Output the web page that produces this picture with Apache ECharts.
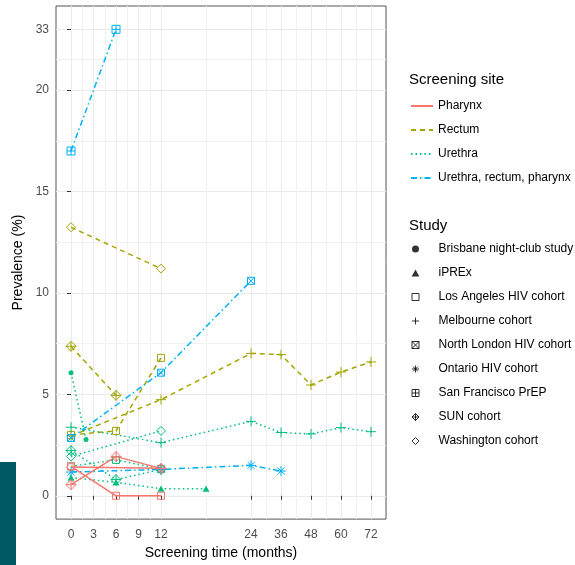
<!DOCTYPE html>
<html>
<head>
<meta charset="utf-8">
<title>Prevalence by screening time</title>
<script src="https://cdn.jsdelivr.net/npm/echarts@6.0.0/dist/echarts.min.js"></script>
<style>
  html, body { margin: 0; height: 100%; background: #fff; }
  #chart { width: 575px; height: 565px; }
</style>
</head>
<body>
<div id="chart"></div>
<script>
// tick labels
var xTickLabels = [0, 3, 6, 9, 12, 24, 36, 48, 60, 72];
var yTickLabels = [0, 5, 10, 15, 20, 33];

var sites = ['Pharynx', 'Rectum', 'Urethra', 'Urethra, rectum, pharynx'];
var studies = ['Brisbane night-club study', 'iPREx', 'Los Angeles HIV cohort', 'Melbourne cohort',
  'North London HIV cohort', 'Ontario HIV cohort', 'San Francisco PrEP', 'SUN cohort', 'Washington cohort'];

// [month, prevalence %]
var laPharynx = [[0, 1.45], [6, 0], [12, 0]];
var sunPharynx = [[0, 0.55], [6, 1.93], [12, 1.35]];
var washPharynx = [[0, 1.42], [12, 1.36]];

var washRectum = [[0, 13.24], [12, 11.2]];
var sunRectum = [[0, 7.37], [6, 4.95]];
var laRectum = [[0, 3.0], [6, 3.2], [12, 6.8]];
var melbRectum = [[0, 2.95], [12, 4.74], [24, 7.02], [36, 6.96], [48, 5.46], [60, 6.1], [72, 6.6]];

var brisUrethra = [[0, 6.07], [2, 2.78]];
var melbUrethra = [[0, 3.38], [12, 2.62], [24, 3.67], [36, 3.12], [48, 3.05], [60, 3.36], [72, 3.16]];
var washUrethra = [[0, 1.94], [12, 3.2]];
var sunUrethra = [[0, 2.23], [6, 0.8], [12, 1.3]];
var iprexUrethra = [[0, 0.9], [6, 0.66], [12, 0.35], [18, 0.35]];
var laUrethra = [[0, 1.45], [6, 1.77], [12, 1.32]];

var sfAll = [[0, 17], [6, 33]];
var nlAll = [[0, 2.85], [12, 6.07], [24, 10.6]];
var ontAll = [[0, 1.17], [12, 1.3], [24, 1.5], [36, 1.22]];

// axis transforms: x compressed after 24 months, y compressed above 20 %
function tx(m) { return m <= 24 ? m : 24 + (m - 24) / 3; }
function txInv(t) { return t <= 24 ? t : 24 + (t - 24) * 3; }
function ty(v) { return v <= 20 ? v : 20 + (v - 20) * 3 / 13; }
function tyInv(t) { return t <= 20 ? t : 20 + (t - 20) * 13 / 3; }

function midpoints(arr) {
  var out = [];
  for (var i = 1; i < arr.length; i++) out.push((arr[i - 1] + arr[i]) / 2);
  return out;
}
var xMajor = xTickLabels.map(tx);
var yMajor = yTickLabels.map(ty);

var siteStyle = {
  'Pharynx': { color: '#F8766D', type: 'solid' },
  'Rectum': { color: '#A3A500', type: [5, 4] },
  'Urethra': { color: '#00BF7D', type: [1.5, 3] },
  'Urethra, rectum, pharynx': { color: '#00B0F6', type: [6, 3, 1.5, 3] }
};
var studyStyle = {
  'Brisbane night-club study': { symbol: 'circle', size: 5, filled: true },
  'iPREx': { symbol: 'path://M5,0L10,9L0,9Z', size: 7, filled: true },
  'Los Angeles HIV cohort': { symbol: 'path://M0,0H10V10H0Z', size: 7 },
  'Melbourne cohort': { symbol: 'path://M5,0V10M0,5H10', size: 10 },
  'North London HIV cohort': { symbol: 'path://M0,0H10V10H0ZM0,0L10,10M10,0L0,10', size: 7 },
  'Ontario HIV cohort': { symbol: 'path://M5,0V10M0,5H10M1.5,1.5L8.5,8.5M8.5,1.5L1.5,8.5', size: 10 },
  'San Francisco PrEP': { symbol: 'path://M0,0H10V10H0ZM5,0V10M0,5H10', size: 8 },
  'SUN cohort': { symbol: 'path://M5,0L10,5L5,10L0,5ZM5,0V10M0,5H10', size: 10 },
  'Washington cohort': { symbol: 'path://M5,0L10,5L5,10L0,5Z', size: 9 }
};

function markerStyle(study, color) {
  var s = studyStyle[study];
  if (s.filled) return { color: color, borderWidth: 0 };
  return { color: 'transparent', borderColor: color, borderWidth: 1 };
}

function trace(pts, site, study) {
  var c = siteStyle[site].color;
  return {
    type: 'line',
    name: study + ' / ' + site,
    data: pts.map(function (p) { return [tx(p[0]), ty(p[1])]; }),
    symbol: studyStyle[study].symbol,
    symbolSize: studyStyle[study].size,
    symbolKeepAspect: true,
    showAllSymbol: true,
    lineStyle: { color: c, width: 1.5, type: siteStyle[site].type },
    itemStyle: markerStyle(study, c),
    z: 3
  };
}

var series = [
  trace(washRectum, 'Rectum', 'Washington cohort'),
  trace(sunRectum, 'Rectum', 'SUN cohort'),
  trace(laRectum, 'Rectum', 'Los Angeles HIV cohort'),
  trace(melbRectum, 'Rectum', 'Melbourne cohort'),
  trace(brisUrethra, 'Urethra', 'Brisbane night-club study'),
  trace(melbUrethra, 'Urethra', 'Melbourne cohort'),
  trace(washUrethra, 'Urethra', 'Washington cohort'),
  trace(sunUrethra, 'Urethra', 'SUN cohort'),
  trace(iprexUrethra, 'Urethra', 'iPREx'),
  trace(laUrethra, 'Urethra', 'Los Angeles HIV cohort'),
  trace(sfAll, 'Urethra, rectum, pharynx', 'San Francisco PrEP'),
  trace(nlAll, 'Urethra, rectum, pharynx', 'North London HIV cohort'),
  trace(ontAll, 'Urethra, rectum, pharynx', 'Ontario HIV cohort'),
  trace(laPharynx, 'Pharynx', 'Los Angeles HIV cohort'),
  trace(sunPharynx, 'Pharynx', 'SUN cohort'),
  trace(washPharynx, 'Pharynx', 'Washington cohort')
];

// legend-only series
sites.forEach(function (s) {
  series.push({
    type: 'line', name: s, data: [], symbol: 'none',
    lineStyle: { color: siteStyle[s].color, width: 1.5, type: siteStyle[s].type },
    itemStyle: { color: siteStyle[s].color }
  });
});
studies.forEach(function (s) {
  series.push({
    type: 'scatter', name: s, data: [],
    symbol: studyStyle[s].symbol, symbolKeepAspect: true,
    itemStyle: markerStyle(s, '#000')
  });
});

var dom = document.getElementById('chart');
var myChart = echarts.init(dom, null, { renderer: 'canvas' });

var option = {
  animation: false,
  backgroundColor: '#fff',
  textStyle: { fontFamily: 'Liberation Sans, Arial, sans-serif' },
  title: [
    { text: 'Screening site', left: 409, top: 72, padding: 0,
      textStyle: { fontSize: 15, fontWeight: 'normal', color: '#000' } },
    { text: 'Study', left: 409, top: 218, padding: 0,
      textStyle: { fontSize: 15, fontWeight: 'normal', color: '#000' } }
  ],
  legend: [
    {
      data: sites, orient: 'vertical', left: 410, top: 99, padding: 0,
      itemWidth: 22, itemHeight: 14, itemGap: 10, selectedMode: false,
      itemStyle: { opacity: 0 },
      textStyle: { fontSize: 12, color: '#000', lineHeight: 14 }
    },
    {
      data: studies, orient: 'vertical', left: 411.5, top: 242, padding: 0,
      itemWidth: 36, itemHeight: 7, itemGap: 10, selectedMode: false,
      itemStyle: { borderWidth: 1 },
      textStyle: { fontSize: 12, color: '#000', lineHeight: 14 }
    }
  ],
  grid: {
    left: 56, top: 6, width: 330, height: 516.5,
    show: true, borderColor: '#555', borderWidth: 1, backgroundColor: '#fff'
  },
  xAxis: [
    {
      type: 'value', min: -2, max: 42,
      name: 'Screening time (months)', nameLocation: 'middle', nameGap: 21,
      nameTextStyle: { fontSize: 14, color: '#000' },
      axisLine: { show: false },
      axisTick: { length: 4, lineStyle: { color: '#333' }, customValues: xMajor },
      axisLabel: { fontSize: 12, color: '#4D4D4D', margin: 10, customValues: xMajor,
        formatter: function (v) { return String(Math.round(txInv(v))); } },
      splitLine: { show: true, lineStyle: { color: '#EBEBEB', width: 1 } }
    },
    {
      type: 'value', min: -2, max: 42, gridIndex: 0,
      axisLine: { show: false }, axisLabel: { show: false },
      axisTick: { show: false, customValues: midpoints(xMajor) },
      splitLine: { show: true, lineStyle: { color: '#F1F1F1', width: 1 } }
    }
  ],
  yAxis: [
    {
      type: 'value', min: -1.15, max: 24.15,
      name: 'Prevalence (%)', nameLocation: 'middle', nameGap: 23,
      nameTextStyle: { fontSize: 14, color: '#000' },
      axisLine: { show: false },
      axisTick: { length: 4, lineStyle: { color: '#333' }, customValues: yMajor },
      axisLabel: { fontSize: 12, color: '#4D4D4D', margin: 7, customValues: yMajor,
        formatter: function (v) { return String(Math.round(tyInv(v))); } },
      splitLine: { show: true, lineStyle: { color: '#EBEBEB', width: 1 } }
    },
    {
      type: 'value', min: -1.15, max: 24.15, gridIndex: 0,
      axisLine: { show: false }, axisLabel: { show: false },
      axisTick: { show: false, customValues: midpoints(yMajor) },
      splitLine: { show: true, lineStyle: { color: '#F1F1F1', width: 1 } }
    }
  ],
  graphic: [
    { type: 'rect', left: 0, top: 462, shape: { width: 16, height: 103 },
      style: { fill: '#005A66' }, z: 10 }
  ],
  series: series
};

myChart.setOption(option);
</script>
</body>
</html>
